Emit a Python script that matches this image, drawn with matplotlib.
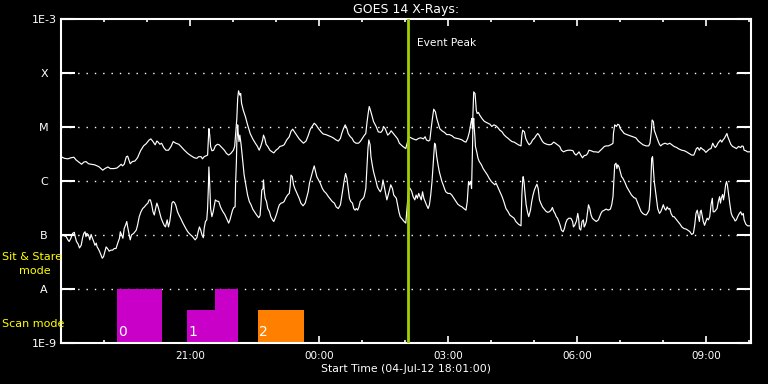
import numpy as np
import matplotlib
matplotlib.use("Agg")
import matplotlib.pyplot as plt
from matplotlib.ticker import NullLocator, FixedLocator

# ---------------- data (hours since 18:00 on 04-Jul-12, log10 flux W/m^2) ----------------
hours_long = [
    0.00, 0.08, 0.16, 0.23, 0.30, 0.35, 0.43, 0.48, 0.53, 0.58, 0.64, 0.70, 0.78, 0.84, 0.89, 0.97,
    1.02, 1.09, 1.15, 1.23, 1.30, 1.36, 1.40, 1.43, 1.47, 1.52, 1.55, 1.58, 1.61, 1.66, 1.72, 1.78,
    1.85, 1.92, 1.98, 2.05, 2.09, 2.14, 2.19, 2.23, 2.26, 2.30, 2.34, 2.39, 2.44, 2.50, 2.56, 2.61,
    2.67, 2.74, 2.79, 2.87, 2.95, 3.02, 3.10, 3.16, 3.20, 3.26, 3.29, 3.33, 3.38, 3.41, 3.43, 3.44,
    3.46, 3.48, 3.51, 3.55, 3.59, 3.64, 3.68, 3.74, 3.80, 3.85, 3.90, 3.95, 4.01, 4.04, 4.06, 4.09,
    4.11, 4.13, 4.16, 4.18, 4.20, 4.24, 4.29, 4.34, 4.40, 4.46, 4.52, 4.57, 4.61, 4.65, 4.69, 4.71,
    4.74, 4.77, 4.81, 4.86, 4.91, 4.95, 5.00, 5.05, 5.09, 5.14, 5.19, 5.25, 5.31, 5.35, 5.39, 5.43,
    5.49, 5.54, 5.60, 5.64, 5.70, 5.75, 5.80, 5.85, 5.89, 5.93, 5.99, 6.05, 6.10, 6.16, 6.22, 6.28,
    6.33, 6.40, 6.45, 6.50, 6.53, 6.57, 6.61, 6.65, 6.68, 6.73, 6.77, 6.81, 6.86, 6.92, 6.96, 7.01,
    7.05, 7.09, 7.12, 7.15, 7.17, 7.19, 7.23, 7.27, 7.33, 7.38, 7.44, 7.48, 7.50, 7.54, 7.57, 7.60,
    7.64, 7.68, 7.71, 7.75, 7.79, 7.83, 7.87, 7.91, 7.95, 8.02, 8.09, 8.14, 8.19, 8.26, 8.32, 8.37,
    8.43, 8.47, 8.50, 8.55, 8.58, 8.61, 8.64, 8.67, 8.71, 8.74, 8.78, 8.81, 8.86, 8.92, 8.97, 9.03,
    9.09, 9.15, 9.20, 9.26, 9.33, 9.38, 9.42, 9.46, 9.50, 9.54, 9.56, 9.57, 9.59, 9.60, 9.63, 9.64,
    9.66, 9.68, 9.71, 9.74, 9.79, 9.84, 9.88, 9.93, 9.98, 10.02, 10.07, 10.12, 10.16, 10.21, 10.26, 10.30,
    10.35, 10.40, 10.44, 10.49, 10.54, 10.58, 10.64, 10.70, 10.72, 10.74, 10.78, 10.81, 10.85, 10.89, 10.93, 10.97,
    11.01, 11.05, 11.09, 11.12, 11.16, 11.20, 11.24, 11.30, 11.36, 11.41, 11.46, 11.50, 11.55, 11.60, 11.64, 11.69,
    11.74, 11.80, 11.86, 11.91, 11.94, 11.98, 12.02, 12.05, 12.09, 12.13, 12.17, 12.22, 12.25, 12.28, 12.33, 12.39,
    12.44, 12.50, 12.54, 12.59, 12.64, 12.68, 12.73, 12.78, 12.81, 12.84, 12.85, 12.88, 12.92, 12.95, 12.98, 13.01,
    13.05, 13.10, 13.16, 13.23, 13.30, 13.37, 13.43, 13.49, 13.54, 13.61, 13.67, 13.70, 13.73, 13.75, 13.78, 13.80,
    13.84, 13.88, 13.92, 13.95, 13.99, 14.05, 14.11, 14.16, 14.21, 14.26, 14.32, 14.38, 14.44, 14.50, 14.55, 14.61,
    14.67, 14.72, 14.75, 14.78, 14.81, 14.85, 14.88, 14.92, 14.96, 15.00, 15.04, 15.08, 15.12, 15.16, 15.19, 15.22,
    15.25, 15.28, 15.31, 15.34, 15.37, 15.40, 15.43, 15.47, 15.49, 15.51, 15.54, 15.58, 15.62, 15.67, 15.71, 15.76,
    15.81, 15.84, 15.87, 15.89, 15.93, 15.97, 16.02,
]
logflux_long = [
    -5.55, -5.58, -5.59, -5.57, -5.56, -5.61, -5.66, -5.69, -5.65, -5.64, -5.68, -5.69, -5.70, -5.72, -5.74, -5.80,
    -5.77, -5.74, -5.77, -5.77, -5.76, -5.72, -5.69, -5.72, -5.69, -5.55, -5.54, -5.61, -5.68, -5.64, -5.63, -5.57,
    -5.44, -5.35, -5.31, -5.24, -5.22, -5.27, -5.33, -5.26, -5.28, -5.32, -5.30, -5.38, -5.43, -5.43, -5.36, -5.27,
    -5.30, -5.32, -5.36, -5.43, -5.49, -5.53, -5.57, -5.58, -5.55, -5.55, -5.59, -5.55, -5.53, -5.52, -5.21, -5.03,
    -5.15, -5.36, -5.44, -5.43, -5.35, -5.32, -5.33, -5.38, -5.43, -5.49, -5.52, -5.49, -5.43, -5.36, -5.15, -4.84,
    -4.47, -4.33, -4.41, -4.38, -4.56, -4.69, -4.81, -4.96, -5.12, -5.22, -5.30, -5.36, -5.43, -5.35, -5.24, -5.15,
    -5.21, -5.32, -5.36, -5.43, -5.46, -5.48, -5.43, -5.40, -5.36, -5.35, -5.33, -5.24, -5.18, -5.08, -5.04, -5.09,
    -5.16, -5.22, -5.27, -5.30, -5.26, -5.16, -5.04, -4.98, -4.93, -4.96, -5.03, -5.09, -5.13, -5.14, -5.16, -5.18,
    -5.20, -5.24, -5.26, -5.21, -5.12, -5.03, -4.96, -5.03, -5.12, -5.18, -5.21, -5.27, -5.30, -5.30, -5.27, -5.21,
    -5.16, -5.12, -4.90, -4.72, -4.62, -4.67, -4.78, -4.90, -4.99, -5.09, -5.10, -5.06, -4.99, -5.03, -5.09, -5.15,
    -5.12, -5.07, -5.10, -5.14, -5.18, -5.22, -5.30, -5.33, -5.36, -5.40, -5.18, -5.20, -5.22, -5.24, -5.21, -5.20,
    -5.22, -5.18, -5.24, -5.26, -5.24, -5.03, -4.84, -4.67, -4.72, -4.84, -4.95, -5.03, -5.07, -5.10, -5.14, -5.14,
    -5.16, -5.20, -5.21, -5.22, -5.24, -5.27, -5.28, -5.21, -5.09, -4.90, -4.84, -5.03, -4.59, -4.35, -4.38, -4.47,
    -4.69, -4.75, -4.73, -4.78, -4.84, -4.89, -4.91, -4.93, -4.95, -4.99, -4.96, -4.98, -5.01, -5.06, -5.09, -5.14,
    -5.18, -5.21, -5.24, -5.27, -5.28, -5.30, -5.33, -5.35, -5.15, -5.06, -5.09, -5.21, -5.28, -5.33, -5.30, -5.24,
    -5.21, -5.16, -5.12, -5.15, -5.21, -5.27, -5.30, -5.32, -5.33, -5.32, -5.28, -5.30, -5.33, -5.36, -5.43, -5.46,
    -5.44, -5.43, -5.43, -5.44, -5.49, -5.52, -5.49, -5.46, -5.52, -5.57, -5.53, -5.52, -5.49, -5.43, -5.44, -5.46,
    -5.46, -5.47, -5.44, -5.40, -5.36, -5.35, -5.35, -5.33, -5.32, -5.30, -5.12, -4.96, -4.99, -4.95, -4.96, -5.03,
    -5.07, -5.12, -5.14, -5.16, -5.18, -5.20, -5.26, -5.30, -5.33, -5.35, -5.35, -5.30, -5.09, -4.87, -4.90, -5.06,
    -5.15, -5.24, -5.32, -5.35, -5.32, -5.30, -5.32, -5.30, -5.33, -5.36, -5.38, -5.41, -5.43, -5.44, -5.46, -5.49,
    -5.52, -5.52, -5.46, -5.40, -5.38, -5.43, -5.38, -5.41, -5.43, -5.47, -5.44, -5.41, -5.40, -5.30, -5.35, -5.38,
    -5.35, -5.30, -5.27, -5.24, -5.28, -5.24, -5.21, -5.15, -5.12, -5.18, -5.24, -5.32, -5.36, -5.38, -5.40, -5.36,
    -5.38, -5.35, -5.36, -5.43, -5.44, -5.46, -5.46,
]

hours_short = [
    0.00, 0.06, 0.12, 0.16, 0.19, 0.23, 0.27, 0.31, 0.33, 0.36, 0.40, 0.43, 0.47, 0.50, 0.53, 0.56,
    0.58, 0.60, 0.64, 0.67, 0.70, 0.73, 0.76, 0.79, 0.82, 0.84, 0.87, 0.90, 0.93, 0.96, 0.99, 1.02,
    1.05, 1.09, 1.12, 1.16, 1.20, 1.24, 1.28, 1.32, 1.36, 1.38, 1.41, 1.44, 1.47, 1.50, 1.53, 1.55,
    1.58, 1.61, 1.64, 1.69, 1.72, 1.75, 1.78, 1.82, 1.86, 1.90, 1.94, 1.98, 2.02, 2.05, 2.08, 2.11,
    2.14, 2.17, 2.20, 2.23, 2.26, 2.30, 2.33, 2.36, 2.40, 2.43, 2.47, 2.50, 2.53, 2.56, 2.58, 2.61,
    2.64, 2.67, 2.71, 2.75, 2.79, 2.83, 2.87, 2.91, 2.95, 2.98, 3.02, 3.06, 3.10, 3.12, 3.16, 3.19,
    3.22, 3.25, 3.28, 3.31, 3.33, 3.36, 3.39, 3.41, 3.43, 3.44, 3.46, 3.48, 3.51, 3.54, 3.57, 3.59,
    3.62, 3.67, 3.71, 3.76, 3.81, 3.85, 3.90, 3.93, 3.96, 3.99, 4.02, 4.05, 4.06, 4.08, 4.09, 4.11,
    4.12, 4.14, 4.16, 4.19, 4.23, 4.26, 4.30, 4.34, 4.38, 4.42, 4.46, 4.50, 4.55, 4.60, 4.63, 4.65,
    4.67, 4.70, 4.71, 4.73, 4.75, 4.78, 4.81, 4.85, 4.88, 4.92, 4.95, 4.98, 5.02, 5.05, 5.08, 5.12,
    5.16, 5.19, 5.23, 5.27, 5.31, 5.33, 5.35, 5.38, 5.41, 5.44, 5.49, 5.54, 5.58, 5.63, 5.68, 5.72,
    5.75, 5.78, 5.81, 5.85, 5.89, 5.92, 5.95, 5.99, 6.03, 6.08, 6.12, 6.17, 6.22, 6.26, 6.31, 6.36,
    6.40, 6.45, 6.50, 6.53, 6.56, 6.59, 6.62, 6.65, 6.68, 6.71, 6.74, 6.78, 6.81, 6.84, 6.87, 6.90,
    6.93, 6.96, 6.99, 7.02, 7.05, 7.09, 7.12, 7.14, 7.16, 7.19, 7.21, 7.24, 7.27, 7.30, 7.33, 7.36,
    7.40, 7.43, 7.46, 7.49, 7.52, 7.55, 7.58, 7.61, 7.64, 7.67, 7.71, 7.74, 7.77, 7.80, 7.83, 7.86,
    7.89, 7.92, 7.95, 7.98, 8.02, 8.09, 8.13, 8.16, 8.19, 8.23, 8.26, 8.29, 8.32, 8.35, 8.38, 8.41,
    8.44, 8.47, 8.50, 8.54, 8.57, 8.60, 8.63, 8.66, 8.69, 8.71, 8.74, 8.77, 8.80, 8.83, 8.86, 8.89,
    8.92, 8.95, 9.00, 9.05, 9.09, 9.14, 9.19, 9.23, 9.28, 9.33, 9.37, 9.42, 9.45, 9.48, 9.50, 9.53,
    9.55, 9.57, 9.58, 9.60, 9.61, 9.63, 9.64, 9.67, 9.70, 9.73, 9.78, 9.82, 9.87, 9.92, 9.96, 10.01,
    10.05, 10.09, 10.12, 10.16, 10.21, 10.26, 10.30, 10.35, 10.40, 10.44, 10.49, 10.54, 10.58, 10.64, 10.70, 10.72,
    10.74, 10.75, 10.77, 10.79, 10.82, 10.85, 10.88, 10.92, 10.95, 10.98, 11.01, 11.04, 11.07, 11.10, 11.13, 11.16,
    11.20, 11.24, 11.28, 11.32, 11.36, 11.40, 11.43, 11.46, 11.49, 11.52, 11.55, 11.58, 11.61, 11.64, 11.68, 11.71,
    11.74, 11.77, 11.81, 11.86, 11.90, 11.92, 11.95, 11.99, 12.02, 12.04, 12.06, 12.09, 12.12, 12.15, 12.17, 12.19,
    12.22, 12.25, 12.27, 12.30, 12.33, 12.36, 12.40, 12.45, 12.50, 12.53, 12.56, 12.59, 12.64, 12.68, 12.73, 12.78,
    12.81, 12.84, 12.86, 12.88, 12.91, 12.93, 12.95, 12.98, 13.01, 13.04, 13.07, 13.12, 13.16, 13.22, 13.27, 13.33,
    13.37, 13.41, 13.45, 13.49, 13.53, 13.57, 13.61, 13.64, 13.68, 13.71, 13.73, 13.74, 13.76, 13.78, 13.80, 13.82,
    13.85, 13.88, 13.92, 13.95, 13.98, 14.01, 14.04, 14.07, 14.10, 14.13, 14.16, 14.19, 14.23, 14.26, 14.30, 14.35,
    14.40, 14.44, 14.49, 14.54, 14.58, 14.63, 14.67, 14.71, 14.74, 14.77, 14.80, 14.82, 14.85, 14.87, 14.89, 14.92,
    14.94, 14.97, 15.00, 15.03, 15.06, 15.09, 15.12, 15.15, 15.17, 15.20, 15.23, 15.26, 15.29, 15.32, 15.34, 15.36,
    15.39, 15.41, 15.43, 15.46, 15.48, 15.50, 15.53, 15.56, 15.59, 15.62, 15.65, 15.68, 15.71, 15.74, 15.78, 15.81,
    15.84, 15.87, 15.89, 15.93, 15.97, 16.02,
]
logflux_short = [
    -7.01, -7.01, -7.03, -7.09, -7.12, -7.06, -6.97, -6.95, -7.03, -7.12, -7.17, -7.24, -7.19, -7.06, -6.97, -6.94,
    -7.03, -6.97, -7.00, -7.09, -6.99, -7.06, -7.12, -7.19, -7.15, -7.22, -7.26, -7.31, -7.37, -7.43, -7.40, -7.31,
    -7.22, -7.26, -7.30, -7.28, -7.28, -7.25, -7.25, -7.15, -7.06, -6.94, -7.00, -7.06, -6.88, -6.82, -6.75, -6.85,
    -6.97, -7.09, -7.00, -6.97, -6.94, -6.91, -6.82, -6.66, -6.57, -6.51, -6.48, -6.44, -6.41, -6.35, -6.35, -6.44,
    -6.57, -6.63, -6.51, -6.41, -6.48, -6.60, -6.69, -6.75, -6.82, -6.85, -6.72, -6.85, -6.75, -6.57, -6.41, -6.38,
    -6.40, -6.45, -6.57, -6.64, -6.70, -6.77, -6.83, -6.89, -6.94, -6.97, -7.00, -7.03, -7.07, -7.09, -7.05, -6.94,
    -6.85, -6.91, -7.00, -7.05, -6.88, -6.75, -6.72, -6.51, -6.07, -5.74, -6.07, -6.51, -6.66, -6.57, -6.44, -6.35,
    -6.37, -6.38, -6.48, -6.56, -6.62, -6.69, -6.78, -6.72, -6.63, -6.54, -6.49, -6.48, -6.07, -5.64, -5.27, -4.96,
    -5.09, -5.27, -5.15, -5.33, -5.64, -5.89, -6.07, -6.26, -6.38, -6.44, -6.52, -6.57, -6.63, -6.68, -6.64, -6.44,
    -6.17, -6.14, -5.98, -6.20, -6.32, -6.38, -6.51, -6.57, -6.66, -6.72, -6.75, -6.69, -6.60, -6.51, -6.44, -6.41,
    -6.40, -6.38, -6.31, -6.26, -6.23, -6.10, -5.89, -5.92, -6.07, -6.14, -6.23, -6.32, -6.41, -6.46, -6.41, -6.29,
    -6.20, -6.04, -5.95, -5.83, -5.72, -5.82, -5.92, -5.98, -6.04, -6.14, -6.19, -6.23, -6.29, -6.33, -6.38, -6.41,
    -6.48, -6.51, -6.44, -6.29, -6.14, -5.98, -5.86, -5.95, -6.14, -6.32, -6.38, -6.41, -6.51, -6.54, -6.51, -6.54,
    -6.48, -6.38, -6.35, -6.33, -6.29, -6.14, -5.70, -5.40, -5.24, -5.33, -5.55, -5.70, -5.83, -5.92, -6.01, -6.11,
    -6.17, -6.20, -6.14, -5.98, -6.11, -6.23, -6.35, -6.26, -6.17, -6.07, -6.14, -6.26, -6.29, -6.32, -6.44, -6.57,
    -6.66, -6.69, -6.72, -6.75, -6.78, -6.11, -6.15, -6.20, -6.29, -6.35, -6.26, -6.32, -6.23, -6.29, -6.35, -6.20,
    -6.32, -6.38, -6.44, -6.51, -6.44, -6.26, -6.01, -5.64, -5.30, -5.33, -5.55, -5.70, -5.83, -5.92, -6.01, -6.07,
    -6.14, -6.20, -6.23, -6.23, -6.26, -6.32, -6.38, -6.43, -6.46, -6.48, -6.51, -6.54, -6.38, -6.01, -6.07, -6.01,
    -6.14, -5.46, -5.03, -4.84, -4.99, -5.21, -5.36, -5.46, -5.58, -5.64, -5.70, -5.77, -5.83, -5.89, -5.95, -6.01,
    -6.04, -6.07, -6.04, -6.11, -6.20, -6.29, -6.38, -6.51, -6.57, -6.63, -6.66, -6.69, -6.75, -6.80, -6.83, -6.26,
    -5.98, -5.92, -6.01, -6.20, -6.44, -6.57, -6.66, -6.54, -6.38, -6.26, -6.17, -6.11, -6.06, -6.14, -6.35, -6.41,
    -6.48, -6.52, -6.56, -6.58, -6.57, -6.54, -6.49, -6.56, -6.60, -6.66, -6.69, -6.75, -6.82, -6.91, -6.94, -6.88,
    -6.78, -6.72, -6.69, -6.69, -6.75, -6.85, -6.82, -6.74, -6.60, -6.69, -6.88, -6.91, -6.75, -6.72, -6.85, -6.82,
    -6.75, -6.57, -6.44, -6.51, -6.63, -6.69, -6.72, -6.75, -6.72, -6.66, -6.60, -6.56, -6.54, -6.52, -6.54, -6.52,
    -6.44, -6.29, -6.01, -5.70, -5.67, -5.77, -5.70, -5.74, -5.83, -5.92, -5.95, -6.03, -6.11, -6.19, -6.26, -6.31,
    -6.32, -6.40, -6.48, -6.56, -6.60, -6.62, -6.63, -6.60, -6.54, -6.26, -5.83, -5.58, -5.55, -5.77, -6.01, -6.14,
    -6.32, -6.51, -6.60, -6.57, -6.51, -6.44, -6.51, -6.54, -6.48, -6.52, -6.51, -6.60, -6.66, -6.66, -6.70, -6.75,
    -6.80, -6.85, -6.88, -6.89, -6.91, -6.94, -6.99, -6.97, -6.82, -6.60, -6.54, -6.63, -6.75, -6.57, -6.54, -6.66,
    -6.75, -6.82, -6.75, -6.69, -6.72, -6.66, -6.44, -6.32, -6.57, -6.57, -6.54, -6.51, -6.38, -6.29, -6.41, -6.32,
    -6.25, -6.35, -6.26, -6.07, -6.01, -6.07, -6.26, -6.44, -6.60, -6.66, -6.69, -6.74, -6.72, -6.66, -6.60, -6.57,
    -6.63, -6.60, -6.72, -6.80, -6.83, -6.83,
]

# flare-class levels and labels
ytick_values = [1e-9, 1e-8, 1e-7, 1e-6, 1e-5, 1e-4, 1e-3]
ytick_labels = ["1E-9", "A", "B", "C", "M", "X", "1E-3"]
grid_levels = [1e-8, 1e-7, 1e-6, 1e-5, 1e-4]

# time axis
xtick_hours = [3, 6, 9, 12, 15]
xtick_labels = ["21:00", "00:00", "03:00", "06:00", "09:00"]
x_end_hours = 16.05

event_peak_hour = 8.07

# observation (scan) blocks
scan_start = [1.30, 2.93, 3.58, 4.58]
scan_end = [2.34, 3.58, 4.11, 5.65]
scan_top = [1e-8, 4.1e-9, 1e-8, 4.1e-9]
scan_colors = ["#c800c8", "#c800c8", "#c800c8", "#ff8000"]
scan_label_text = ["0", "1", "2"]
scan_label_hour = [1.30, 2.93, 4.58]

# ---------------- figure ----------------
W, H = 768, 384
fig = plt.figure(figsize=(W / 100, H / 100), dpi=100, facecolor="black")
ax = fig.add_axes([61 / W, 41 / H, 690 / W, 324 / H])
ax.set_facecolor("black")
ax.set_yscale("log")
ax.set_ylim(1e-9, 1e-3)
ax.set_xlim(0, x_end_hours)

for s in ax.spines.values():
    s.set_color("white")
    s.set_linewidth(1.5)

# dotted grid
for lvl in grid_levels:
    ax.axhline(lvl, color="white", lw=1.0, ls=(0, (1, 5)), zorder=1)

# scan blocks
for x0, x1, top, col in zip(scan_start, scan_end, scan_top, scan_colors):
    ax.bar(x0, top - 1e-9, width=x1 - x0, bottom=1e-9, align="edge",
           color=col, edgecolor="none", zorder=2)
for lab, xh in zip(scan_label_text, scan_label_hour):
    ax.text(xh + 0.03, 1.18e-9, lab, color="white", fontsize=10,
            ha="left", va="bottom", zorder=3)

# curves
ax.plot(hours_long, 10 ** np.array(logflux_long), color="white", lw=0.85, zorder=4)
ax.plot(hours_short, 10 ** np.array(logflux_short), color="white", lw=0.85, zorder=4)

# event peak
ax.axvline(event_peak_hour, color="#a0d000", lw=2.0, zorder=5)
ax.text(event_peak_hour + 0.21, 3.6e-4, "Event Peak", color="white",
        fontsize=7.7, ha="left", va="center", zorder=6)

# y axis
ax.yaxis.set_major_locator(FixedLocator(ytick_values))
ax.yaxis.set_minor_locator(NullLocator())
ax.set_yticklabels(ytick_labels)
ax.tick_params(axis="y", which="major", direction="in", length=10, width=1.5,
               colors="white", left=True, right=True, labelsize=8, pad=12.2)
for lbl in ax.get_yticklabels():
    lbl.set_horizontalalignment("center")

# x axis
ax.xaxis.set_major_locator(FixedLocator(xtick_hours))
ax.xaxis.set_minor_locator(FixedLocator([h for h in range(1, 17) if h not in xtick_hours]))
ax.set_xticklabels(xtick_labels)
ax.tick_params(axis="x", which="major", direction="in", length=5, width=1.2,
               colors="white", top=True, bottom=True, labelsize=7.5, pad=5.5)
ax.tick_params(axis="x", which="minor", direction="in", length=2.5, width=1.2,
               colors="white", top=True, bottom=True)

# titles / labels
fig.text(406 / W, 1 - 9 / H, "GOES 14 X-Rays:", color="white", fontsize=9,
         ha="center", va="center")
fig.text(406 / W, 1 - 369 / H, "Start Time (04-Jul-12 18:01:00)", color="white",
         fontsize=7.8, ha="center", va="center")
fig.text(2 / W, 1 - 257 / H, "Sit & Stare", color="#ffff00", fontsize=8,
         ha="left", va="center")
fig.text(35 / W, 1 - 271 / H, "mode", color="#ffff00", fontsize=8,
         ha="center", va="center")
fig.text(2 / W, 1 - 324 / H, "Scan mode", color="#ffff00", fontsize=8,
         ha="left", va="center")

fig.savefig("out.png", dpi=100, facecolor="black")
